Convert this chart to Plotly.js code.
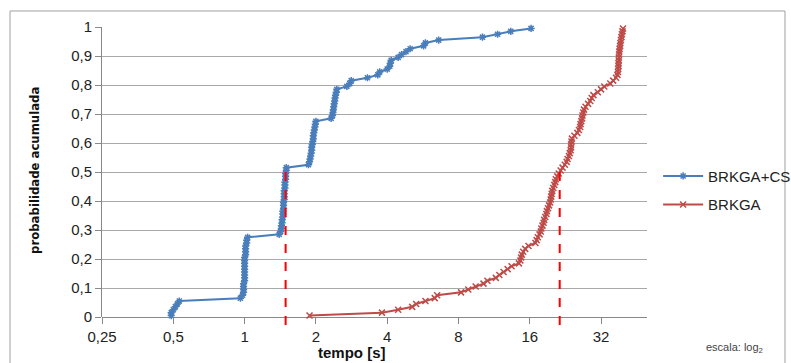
<!DOCTYPE html>
<html>
<head>
<meta charset="utf-8">
<script src="https://cdn.plot.ly/plotly-3.0.1.min.js"></script>
<style>html,body{margin:0;padding:0;background:#fff;}#chart{width:791px;height:363px;}</style>
</head>
<body>
<div id="chart"></div>
<script>
// cumulative probability levels (shared by both series)
var probLevels = [0.005,0.015,0.025,0.035,0.045,0.055,0.065,0.075,0.085,0.095,
  0.105,0.115,0.125,0.135,0.145,0.155,0.165,0.175,0.185,0.195,
  0.205,0.215,0.225,0.235,0.245,0.255,0.265,0.275,0.285,0.295,
  0.305,0.315,0.325,0.335,0.345,0.355,0.365,0.375,0.385,0.395,
  0.405,0.415,0.425,0.435,0.445,0.455,0.465,0.475,0.485,0.495,
  0.505,0.515,0.525,0.535,0.545,0.555,0.565,0.575,0.585,0.595,
  0.605,0.615,0.625,0.635,0.645,0.655,0.665,0.675,0.685,0.695,
  0.705,0.715,0.725,0.735,0.745,0.755,0.765,0.775,0.785,0.795,
  0.805,0.815,0.825,0.835,0.845,0.855,0.865,0.875,0.885,0.895,
  0.905,0.915,0.925,0.935,0.945,0.955,0.965,0.975,0.985,0.995];

// BRKGA+CS times (s)
var timesBRKGACS = [0.49,0.49,0.50,0.51,0.52,0.53,0.96,0.98,0.99,0.99,
  0.99,0.99,1.00,1.00,1.00,1.00,1.00,1.00,1.00,1.00,
  1.00,1.01,1.01,1.01,1.01,1.02,1.02,1.03,1.40,1.42,
  1.43,1.43,1.44,1.44,1.45,1.45,1.45,1.46,1.46,1.46,
  1.47,1.47,1.47,1.47,1.48,1.48,1.48,1.49,1.49,1.49,
  1.50,1.50,1.86,1.88,1.89,1.90,1.91,1.92,1.92,1.93,
  1.94,1.95,1.95,1.96,1.97,1.98,1.99,2.00,2.32,2.35,
  2.36,2.37,2.38,2.39,2.40,2.41,2.42,2.44,2.45,2.70,
  2.78,2.82,3.30,3.65,3.72,4.00,4.10,4.12,4.16,4.45,
  4.60,4.80,5.00,5.70,5.80,6.60,10.1,11.7,13.3,16.2];

// BRKGA times (s)
var timesBRKGA = [1.88,3.80,4.45,5.10,5.30,5.80,6.35,6.50,8.20,8.80,
  9.45,10.2,10.6,11.5,11.9,12.4,12.9,13.4,14.4,14.6,
  14.7,14.8,15.0,15.3,15.8,16.9,17.1,17.3,17.6,17.8,
  17.9,18.1,18.3,18.4,18.6,18.8,18.9,19.1,19.3,19.5,
  19.6,19.7,19.8,19.9,20.1,20.3,20.5,20.6,20.9,21.2,
  21.6,22.0,22.5,22.9,23.1,23.4,23.6,23.8,23.9,23.9,
  24.0,24.1,24.7,25.4,25.8,26.1,26.2,26.4,26.6,26.7,
  26.9,27.1,27.5,28.2,28.8,29.2,29.7,31.0,32.0,33.0,
  35.0,36.0,37.0,37.5,37.7,37.8,37.9,37.9,38.0,38.0,
  38.1,38.2,38.3,38.5,38.6,38.8,39.0,39.2,39.4,39.6];

// median times marked with dashed lines
var medianTimes = [1.49, 21.4];
var medianProb = 0.5;

var xTickVals = [0.25,0.5,1,2,4,8,16,32];
var xTickText = ['0,25','0,5','1','2','4','8','16','32'];
var yTickVals = [0,0.1,0.2,0.3,0.4,0.5,0.6,0.7,0.8,0.9,1];
var yTickText = ['0','0,1','0,2','0,3','0,4','0,5','0,6','0,7','0,8','0,9','1'];

var seriesNames = ['BRKGA+CS','BRKGA'];

var traces = [
  {x: timesBRKGACS, y: probLevels, name: seriesNames[0], legendgroup: 'g1', type: 'scatter', mode: 'lines+markers',
   line: {color: '#4a7ebb', width: 2},
   marker: {symbol: 'asterisk-open', size: 6, color: '#4a7ebb', line: {color: '#4a7ebb', width: 1.5}},
   cliponaxis: false},
  {x: timesBRKGA, y: probLevels, name: seriesNames[1], legendgroup: 'g2', type: 'scatter', mode: 'lines+markers',
   line: {color: '#be4b48', width: 2},
   marker: {symbol: 'x-thin-open', size: 6, color: '#be4b48', line: {color: '#be4b48', width: 1.5}},
   cliponaxis: false}
];

var shapes = [
  {type: 'rect', xref: 'paper', yref: 'paper', x0: -0.1688, x1: 1.2532, y0: -0.18, y1: 1.0552,
   line: {color: '#a0a0a0', width: 1}, fillcolor: 'rgba(0,0,0,0)', layer: 'below'}
];
medianTimes.forEach(function(t){
  shapes.push({type: 'line', xref: 'x', yref: 'paper', x0: t, x1: t, y0: -0.028, y1: medianProb,
    line: {color: '#ff0000', width: 2, dash: 'dash'}});
});

var layout = {
  width: 791, height: 363,
  margin: {l: 102, r: 144, t: 27, b: 46, autoexpand: false},
  paper_bgcolor: '#ffffff', plot_bgcolor: '#ffffff',
  font: {family: 'Liberation Sans, Arial, sans-serif', size: 15, color: '#222'},
  showlegend: true,
  legend: {xref: 'container', yref: 'container', x: 0.832, y: 0.56, xanchor: 'left', yanchor: 'top',
    bgcolor: 'rgba(0,0,0,0)', font: {size: 15, color: '#222'},
    traceorder: 'grouped', tracegroupgap: 6, itemwidth: 40},
  xaxis: {type: 'log', range: [Math.log10(0.25), Math.log10(50)],
    tickmode: 'array', tickvals: xTickVals, ticktext: xTickText,
    showgrid: false, zeroline: false, showline: false, automargin: false,
    ticks: 'outside', ticklen: 6, tickcolor: '#888', tickwidth: 1,
    tickfont: {size: 15, color: '#222'}, fixedrange: true},
  yaxis: {range: [0, 1], tickmode: 'array', tickvals: yTickVals, ticktext: yTickText,
    showgrid: true, gridcolor: '#a8a8a8', gridwidth: 1, zeroline: true, zerolinecolor: '#888', zerolinewidth: 1,
    showline: true, linecolor: '#888', linewidth: 1, automargin: false,
    ticks: 'outside', ticklen: 6, tickcolor: '#888', tickwidth: 1,
    tickfont: {size: 15, color: '#222'}, fixedrange: true},
  shapes: shapes,
  annotations: [
    {text: '<b>probabilidade acumulada</b>', xref: 'paper', yref: 'paper', x: -0.123, y: 0.507,
     textangle: -90, showarrow: false, xanchor: 'center', yanchor: 'middle',
     font: {family: 'Liberation Sans Narrow, DejaVu Sans Condensed, Arial Narrow, sans-serif', size: 13, color: '#111'}},
    {text: '<b>tempo [s]</b>', xref: 'paper', yref: 'paper', x: 0.459, y: -0.124,
     showarrow: false, xanchor: 'center', yanchor: 'middle',
     font: {family: 'Liberation Sans, Arial, sans-serif', size: 15, color: '#111'}},
    {text: 'escala: log<sub>2</sub>', xref: 'paper', yref: 'paper', x: 1.16, y: -0.107,
     showarrow: false, xanchor: 'center', yanchor: 'middle',
     font: {family: 'Liberation Sans, Arial, sans-serif', size: 11, color: '#444'}}
  ]
};

Plotly.newPlot('chart', traces, layout, {displayModeBar: false, staticPlot: true});
</script>
</body>
</html>
